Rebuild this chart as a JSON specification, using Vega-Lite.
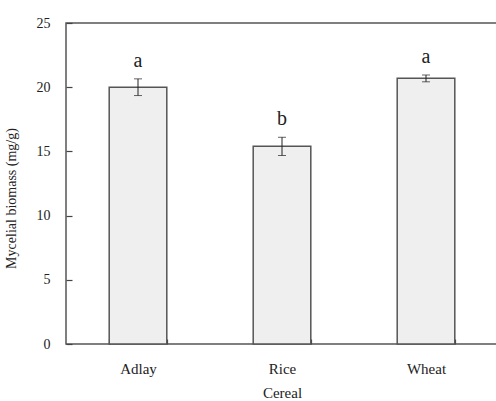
{
  "$schema": "https://vega.github.io/schema/vega-lite/v6.json",
  "autosize": "none",
  "padding": {"left": 66, "top": 23, "right": 0, "bottom": 57},
  "width": 432,
  "height": 321,
  "background": "white",
  "config": {
    "font": "Liberation Serif",
    "view": {"stroke": "#555", "strokeWidth": 1.5},
    "text": {"font": "Liberation Serif"},
    "axis": {"grid": false, "domain": false, "zindex": 1, "tickColor": "#444", "tickWidth": 1.2, "labelColor": "#222", "titleColor": "#222", "labelFont": "Liberation Serif", "titleFont": "Liberation Serif", "titleFontWeight": "normal"}
  },
  "data": {
    "values": [
      {"cereal": "Adlay", "mean": 20.0, "lower": 19.35, "upper": 20.65, "letter": "a"},
      {"cereal": "Rice", "mean": 15.4, "lower": 14.68, "upper": 16.1, "letter": "b"},
      {"cereal": "Wheat", "mean": 20.7, "lower": 20.42, "upper": 20.95, "letter": "a"}
    ]
  },
  "encoding": {
    "x": {
      "field": "cereal", "type": "nominal", "sort": null,
      "scale": {"paddingInner": 0.6, "paddingOuter": 0.3},
      "axis": {"title": "Cereal", "labelAngle": 0, "labelFontSize": 15, "titleFontSize": 15, "offset": -5, "tickSize": 5, "tickBand": "extent", "labelPadding": 17, "titlePadding": 9}
    }
  },
  "layer": [
    {
      "mark": {"type": "bar", "fill": "#efefef", "stroke": "#555", "strokeWidth": 1.5},
      "encoding": {
        "y": {
          "field": "mean", "type": "quantitative",
          "scale": {"domain": [0, 25], "nice": false},
          "axis": {"title": "Mycelial biomass (mg/g)", "values": [0, 5, 10, 15, 20, 25], "labelFontSize": 14, "titleFontSize": 14, "offset": -6, "tickSize": 6, "labelPadding": 16, "titleY": 175, "titleX": -54}
        }
      }
    },
    {
      "mark": {"type": "rule", "stroke": "#222", "strokeWidth": 1},
      "encoding": {
        "y": {"field": "lower", "type": "quantitative"},
        "y2": {"field": "upper"}
      }
    },
    {
      "mark": {"type": "tick", "color": "#222", "thickness": 1, "size": 8},
      "encoding": {"y": {"field": "upper", "type": "quantitative"}}
    },
    {
      "mark": {"type": "tick", "color": "#222", "thickness": 1, "size": 8},
      "encoding": {"y": {"field": "lower", "type": "quantitative"}}
    },
    {
      "mark": {"type": "text", "fontSize": 20, "dy": -12, "baseline": "alphabetic", "color": "#222", "font": "Liberation Serif"},
      "encoding": {
        "y": {"field": "upper", "type": "quantitative"},
        "text": {"field": "letter"}
      }
    }
  ]
}
